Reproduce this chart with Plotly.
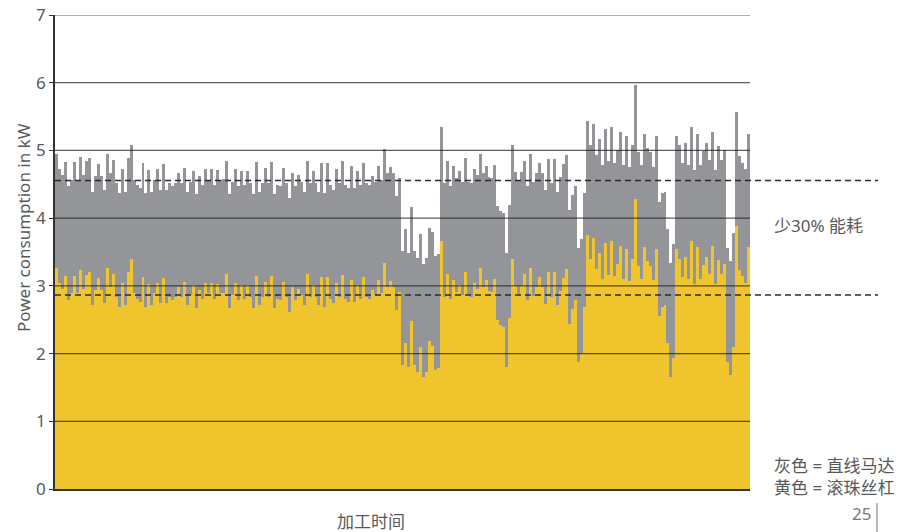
import plotly.graph_objects as go

# Gray = linear motor, yellow = ball screw (power in kW per machining step)
gray_a = [4.94, 4.72, 4.63, 4.83, 4.47, 4.57, 4.83, 4.57, 4.91, 4.64, 4.84, 4.89, 4.39, 4.62, 4.80, 4.62,
          4.42, 4.94, 4.67, 4.86, 4.52, 4.37, 4.72, 4.39, 4.89, 5.08, 4.57, 4.49, 4.44, 4.81, 4.37, 4.71,
          4.39, 4.57, 4.72, 4.42, 4.80, 4.42, 4.52, 4.47, 4.52, 4.67, 4.52, 4.74, 4.39, 4.54, 4.70, 4.35,
          4.62, 4.49, 4.72, 4.57, 4.72, 4.49, 4.71, 4.57, 4.58]
gray_b = [4.85, 4.35, 4.54, 4.72, 4.47, 4.69, 4.49, 4.69, 4.52, 4.35, 4.83, 4.39, 4.52, 4.74, 4.52, 4.83,
          4.35, 4.49, 4.47, 4.74, 4.52, 4.30, 4.67, 4.47, 4.64, 4.54, 4.39, 4.85, 4.52, 4.69, 4.52, 4.39,
          4.81, 4.37, 4.81, 4.49, 4.42, 4.72, 4.52, 4.84, 4.49, 4.44, 4.77, 4.44, 4.70, 4.49, 4.81, 4.52,
          4.49, 4.62, 4.54, 4.77, 4.57, 5.02, 4.67, 4.75, 4.67, 4.32]
gray_c = [4.59, 3.51, 3.84, 3.48, 4.16, 3.51, 3.41, 3.77, 3.33, 3.41, 3.86, 3.79, 3.44, 3.47, 5.34, 4.52,
          4.85, 4.48, 4.77, 4.59, 4.70, 4.54, 4.89, 4.54, 4.52, 4.72, 4.63, 4.95, 4.66, 4.77, 4.61, 4.59,
          4.78, 4.18, 4.10, 4.07, 3.48, 4.20, 5.08, 4.68, 4.56, 4.68, 4.85, 4.47, 4.95, 4.53, 4.66, 4.81,
          4.66, 4.41, 4.88, 4.52, 4.88, 4.39, 4.61, 4.80, 4.93]
gray_d = [4.12, 4.34, 4.47, 3.56, 3.69, 4.37, 5.43, 5.08, 5.39, 4.93, 5.17, 4.78, 5.31, 4.84, 5.34, 4.82,
          5.01, 5.27, 4.78, 5.22, 4.75, 5.08, 5.97, 4.97, 4.78, 5.25, 5.04, 4.97, 4.76, 5.22, 4.24, 4.37,
          4.39, 3.84, 3.34, 3.62, 5.22, 5.08, 4.81, 5.11, 4.78, 5.34, 4.71, 5.25, 4.78, 4.99, 5.11, 4.86,
          5.27, 4.71, 5.06, 4.86, 5.01, 3.56, 3.37, 3.78, 5.57, 4.92, 4.82, 4.72, 5.25]

yellow_a = [3.26, 3.04, 2.95, 3.15, 2.79, 2.89, 3.15, 2.89, 3.23, 2.96, 3.16, 3.21, 2.71, 2.94, 3.12, 2.94,
            2.74, 3.26, 2.99, 3.18, 2.84, 2.69, 3.04, 2.71, 3.21, 3.40, 2.89, 2.81, 2.76, 3.13, 2.69, 3.03,
            2.71, 2.89, 3.04, 2.74, 3.12, 2.74, 2.84, 2.79, 2.84, 2.99, 2.84, 3.06, 2.71, 2.86, 3.02, 2.67,
            2.94, 2.81, 3.04, 2.89, 3.04, 2.81, 3.03, 2.89, 2.90]
yellow_b = [3.17, 2.67, 2.86, 3.04, 2.79, 3.01, 2.81, 3.01, 2.84, 2.67, 3.15, 2.71, 2.84, 3.06, 2.84, 3.15,
            2.67, 2.81, 2.79, 3.06, 2.84, 2.62, 2.99, 2.79, 2.96, 2.86, 2.71, 3.17, 2.84, 3.01, 2.84, 2.71,
            3.13, 2.69, 3.13, 2.81, 2.74, 3.04, 2.84, 3.16, 2.81, 2.76, 3.09, 2.76, 3.02, 2.81, 3.13, 2.84,
            2.81, 2.94, 2.86, 3.09, 2.89, 3.34, 2.99, 3.07, 2.99, 2.64]
yellow_c = [2.91, 1.83, 2.16, 1.80, 2.48, 1.83, 1.73, 2.09, 1.65, 1.73, 2.18, 2.11, 1.76, 1.79, 3.66, 2.84,
            3.17, 2.80, 3.09, 2.91, 3.02, 2.86, 3.21, 2.86, 2.84, 3.04, 2.95, 3.27, 2.98, 3.09, 2.93, 2.91,
            3.10, 2.50, 2.42, 2.39, 1.80, 2.52, 3.40, 3.00, 2.88, 3.00, 3.17, 2.79, 3.27, 2.85, 2.98, 3.13,
            2.98, 2.73, 3.20, 2.84, 3.20, 2.71, 2.93, 3.12, 3.25]
yellow_d = [2.44, 2.66, 2.79, 1.88, 2.01, 2.69, 3.75, 3.40, 3.71, 3.25, 3.49, 3.10, 3.63, 3.16, 3.66, 3.14,
            3.33, 3.59, 3.10, 3.54, 3.07, 3.40, 4.29, 3.29, 3.10, 3.57, 3.36, 3.29, 3.08, 3.54, 2.56, 2.69,
            2.71, 2.16, 1.66, 1.94, 3.54, 3.40, 3.13, 3.43, 3.10, 3.66, 3.03, 3.57, 3.10, 3.31, 3.43, 3.18,
            3.59, 3.03, 3.38, 3.18, 3.33, 1.88, 1.69, 2.10, 3.89, 3.24, 3.14, 3.04, 3.57]

gray_values = gray_a + gray_b + gray_c + gray_d
yellow_values = yellow_a + yellow_b + yellow_c + yellow_d
steps = list(range(1, len(gray_values) + 1))

y_ticks = [0, 1, 2, 3, 4, 5, 6, 7]
threshold_high = 4.555
threshold_low = 2.866

y_title = "Power consumption in kW"
x_title = "加工时间"
saving_label = "少30% 能耗"
legend_label = "灰色 = 直线马达<br>黄色 = 滚珠丝杠"
page_number = "25"

GRAY = "#939598"
YELLOW = "#EFC42C"
TEXT = "#58595b"
FONT = "Noto Sans, Noto Sans CJK SC, sans-serif"
FS = 17

# page body adds an 8px offset; margins compensate so the plot area sits at x 55-750, y 15-489
OFF = 8

fig = go.Figure()
fig.add_trace(go.Bar(x=steps, y=gray_values, marker=dict(color=GRAY, line=dict(width=0)),
                     showlegend=False, hoverinfo="y"))
fig.add_trace(go.Bar(x=steps, y=yellow_values, marker=dict(color=YELLOW, line=dict(width=0)),
                     showlegend=False, hoverinfo="y"))

shapes = []
for v in y_ticks[1:]:
    shapes.append(dict(type="line", xref="paper", yref="y", x0=0, x1=1, y0=v, y1=v,
                       line=dict(color="rgba(25,25,25,0.7)", width=1.2), layer="above"))
for v in (threshold_high, threshold_low):
    shapes.append(dict(type="line", xref="paper", yref="y", x0=0, x1=(878 - 55) / 695, y0=v, y1=v,
                       line=dict(color="#2a2a2a", width=1.6, dash="6px,4px"), layer="above"))
shapes.append(dict(type="line", xref="paper", yref="paper", x0=(877 - 55) / 695, x1=(877 - 55) / 695,
                   y0=(489 - 503) / 474, y1=(489 - 532) / 474, line=dict(color="#888", width=1.2)))

annotations = [
    dict(text=y_title, xref="paper", yref="paper", x=(24 - 55) / 695, y=(489 - 228) / 474,
         textangle=-90, showarrow=False, font=dict(size=FS, color=TEXT, family=FONT),
         xanchor="center", yanchor="middle"),
    dict(text=x_title, xref="paper", yref="paper", x=(371 - 55) / 695, y=(489 - 521) / 474,
         showarrow=False, font=dict(size=FS, color=TEXT, family=FONT), xanchor="center", yanchor="middle"),
    dict(text=saving_label, xref="paper", yref="paper", x=(772 - 55) / 695, y=(489 - 225) / 474,
         showarrow=False, font=dict(size=FS, color=TEXT, family=FONT), xanchor="left", yanchor="middle"),
    dict(text=legend_label, xref="paper", yref="paper", x=(772 - 55) / 695, y=(489 - 476) / 474,
         showarrow=False, font=dict(size=FS, color=TEXT, family=FONT), xanchor="left", yanchor="middle",
         align="left"),
    dict(text=page_number, xref="paper", yref="paper", x=(873 - 55) / 695, y=(489 - 514) / 474,
         showarrow=False, font=dict(size=FS, color="#777", family=FONT), xanchor="right", yanchor="middle"),
]

fig.update_layout(
    width=913, height=532,
    margin=dict(l=55 - OFF, r=913 - 750 + OFF, t=15 - OFF, b=532 - 489 + OFF, autoexpand=False),
    paper_bgcolor="white", plot_bgcolor="white",
    barmode="overlay", bargap=0,
    shapes=shapes, annotations=annotations,
    font=dict(family=FONT, color=TEXT, size=FS),
    xaxis=dict(range=[0.5, len(steps) + 0.5], showgrid=False, zeroline=False, showticklabels=False,
               ticks="", showline=True, linecolor="#333", linewidth=1.6, automargin=False),
    yaxis=dict(range=[0, 7], tickvals=y_ticks, showgrid=False, zeroline=False, showline=True,
               linecolor="#333", linewidth=1.6, ticks="outside", ticklen=4, tickcolor="#333",
               tickfont=dict(size=FS, color=TEXT, family=FONT), automargin=False,
               ticklabeloverflow="allow"),
)

fig.write_html("out.html")
